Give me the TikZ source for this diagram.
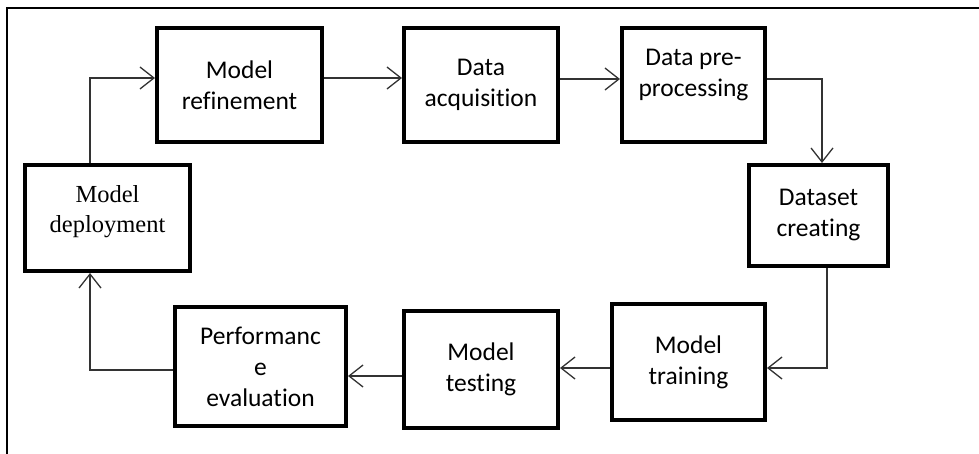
\documentclass[tikz,border=0pt]{standalone}
\usepackage{fontspec}
\setmainfont[Ligatures=NoCommon]{Carlito}
\newfontfamily\tnr{Liberation Serif}
\usetikzlibrary{arrows.meta}
\begin{document}
\begin{tikzpicture}[x=1pt,y=-1pt,
  stepbox/.style={draw=black, line width=4pt, rectangle, align=center, inner sep=0pt,
     font=\fontsize{25.5}{31}\selectfont},
  txt/.style={align=center, inner sep=0pt, font=\fontsize{25.5}{31}\selectfont},
  conn/.style={draw=black!80, line width=1.3pt, -{Straight Barb[length=14pt,width=22pt,line width=1.3pt]}},
  frame/.style={draw=black, line width=1.2pt}]
\useasboundingbox (0,0) rectangle (979,454);
\draw[frame] (7,454) -- (7,8) -- (979,8);
\node[stepbox, minimum width=165pt, minimum height=114pt] (ref) at (239.5,85) {Model\\refinement};
\node[stepbox, minimum width=154pt, minimum height=114pt] (acq) at (481,85) {Data\\acquisition};
\node[stepbox, minimum width=143pt, minimum height=114pt] (pre) at (693.5,85) {};
\node[txt] (pretext) at (693.5,75) {Data pre-\\processing};
\node[stepbox, minimum width=139pt, minimum height=101pt] (ds) at (818.5,215.5) {Dataset\\creating};
\node[stepbox, minimum width=165pt, minimum height=106pt] (dep) at (107.5,218) {};
\node[txt, font=\tnr\fontsize{24.5}{30}\selectfont] (deptext) at (107.5,212) {Model\\deployment};
\node[stepbox, minimum width=171pt, minimum height=119pt] (pe) at (260.5,366.5) {Performanc\\e\\evaluation};
\node[stepbox, minimum width=154pt, minimum height=117pt] (te) at (481,369.5) {Model\\testing};
\node[stepbox, minimum width=153pt, minimum height=116pt] (tr) at (688.5,362) {Model\\training};
\coordinate (c1) at (90,78);
\draw[conn] (dep.north -| c1) -- (c1) -- (c1 -| ref.west);
\draw[conn] (ref.east |- c1) -- (c1 -| acq.west);
\coordinate (c2) at (0,79);
\draw[conn] (acq.east |- c2) -- (pre.west |- c2);
\coordinate (c3) at (822,79);
\draw[conn] (pre.east |- c3) -- (c3) -- (c3 |- ds.north);
\coordinate (c4) at (827,368);
\draw[conn] (ds.south -| c4) -- (c4) -- (c4 -| tr.east);
\draw[conn] (tr.west |- c4) -- (c4 -| te.east);
\coordinate (c5) at (0,376);
\draw[conn] (te.west |- c5) -- (c5 -| pe.east);
\coordinate (c6) at (90,370);
\draw[conn] (pe.west |- c6) -- (c6) -- (c6 |- dep.south);
\end{tikzpicture}
\end{document}
